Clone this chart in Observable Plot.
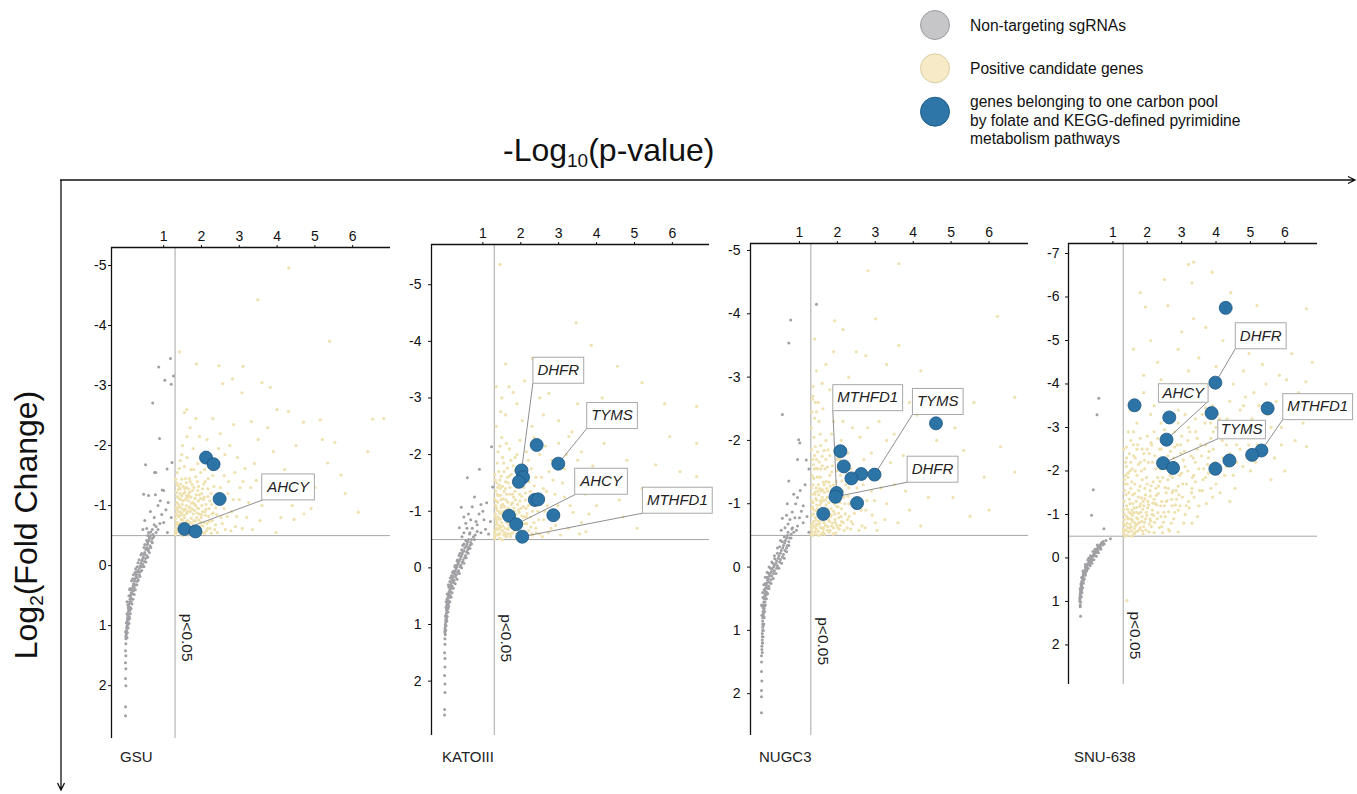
<!DOCTYPE html>
<html><head><meta charset="utf-8">
<script src="https://cdn.jsdelivr.net/npm/d3@7"></script>
<script src="https://cdn.jsdelivr.net/npm/@observablehq/plot@0.6"></script>
<style>
body{margin:0;width:1357px;height:794px;overflow:hidden;position:relative;background:#fff;font-family:"Liberation Sans",Arial,sans-serif;}
.panel{position:absolute;}
</style></head><body>
<script>
// ---------------- DATA ----------------
const cellLines = ["GSU", "KATOIII", "NUGC3", "SNU-638"];
const xTicks = [1, 2, 3, 4, 5, 6];
const yTicksGSU = [-5, -4, -3, -2, -1, 0, 1, 2];
const yTicksKATOIII = [-5, -4, -3, -2, -1, 0, 1, 2];
const yTicksNUGC3 = [-5, -4, -3, -2, -1, 0, 1, 2];
const yTicksSNU = [-7, -6, -5, -4, -3, -2, -1, 0, 1, 2];
const pThreshold = 1.301;      // -log10(0.05)
const foldThreshold = -0.5;
const legendLabels = ["Non-targeting sgRNAs", "Positive candidate genes",
  ["genes belonging to one carbon pool", "by folate and KEGG-defined pyrimidine", "metabolism pathways"]];

// GSU
const gsuNonTargeting = [[0.65,-0.5],[0.62,-0.45],[0.58,-0.38],[0.55,-0.3],[0.5,-0.22],[0.46,-0.15],[0.42,-0.08],[0.38,0],[0.33,0.08],[0.28,0.15],[0.24,0.22],[0.2,0.3],[0.17,0.38],[0.14,0.45],[0.12,0.52],[0.1,0.6],[0.08,0.68],[0.07,0.76],[0.05,0.84],[0.04,0.92],[0.03,1.0],[0.02,1.08],[0.01,1.15],[0.0,1.22],[0.0,1.3],[-0.01,1.42],[0.0,1.5],[-0.01,1.62],[0.0,1.72],[-0.01,1.88],[0.0,2.0],[-0.01,2.35],[-0.01,2.5],[0.7,-0.45],[0.6,-0.28],[0.52,-0.12],[0.45,-0.02],[0.38,0.1],[0.3,0.2],[0.25,0.32],[0.2,0.42],[0.16,0.55],[0.12,0.7],[0.09,0.85],[0.06,0.98],[0.55,-0.42],[0.48,-0.3],[0.4,-0.18],[0.32,-0.05],[0.26,0.05],[0.2,0.15],[0.15,0.25],[0.11,0.38],[0.08,0.5],[0.05,0.65],[0.03,0.8],[0.01,0.95],[-0.01,1.1],[0.6,-0.55],[0.7,-0.6],[0.8,-0.65],[0.55,-0.62],[0.9,-0.7],[1.0,-0.72],[0.75,-0.8],[0.95,-0.85],[1.06,-0.93],[0.65,-0.9],[0.85,-1.0],[0.91,-1.08],[0.47,-1.19],[0.6,-1.17],[0.78,-1.18],[0.96,-1.26],[1.0,-1.25],[0.52,-1.68],[0.76,-1.55],[0.79,-1.55],[1.09,-1.61],[1.22,-1.72],[0.89,-2.12],[0.71,-2.71],[1.18,-3.45],[0.87,-3.31],[1.03,-3.09],[1.2,-3.02],[1.26,-3.16],[1.1,-0.55],[1.2,-0.8],[0.5,-0.75],[0.45,-0.6],[1.12,-1.05],[0.63,-0.48],[0.6,-0.42],[0.57,-0.35],[0.53,-0.27],[0.49,-0.19],[0.44,-0.11],[0.4,-0.04],[0.36,0.04],[0.31,0.11],[0.27,0.18],[0.23,0.26],[0.19,0.34],[0.16,0.41],[0.13,0.49],[0.11,0.56],[0.09,0.64],[0.07,0.72],[0.06,0.8],[0.04,0.88],[0.03,0.96],[0.02,1.04],[0.01,1.12],[0.0,1.18],[0.68,-0.4],[0.64,-0.33],[0.59,-0.25],[0.55,-0.17],[0.49,-0.07],[0.43,0.02],[0.36,0.15],[0.3,0.26],[0.27,0.1],[0.22,0.36],[0.18,0.47],[0.14,0.6],[0.1,0.75],[0.07,0.9],[0.72,-0.52],[0.66,-0.56],[0.58,-0.5],[0.74,-0.48],[0.7,-0.38],[0.66,-0.3],[0.62,-0.22],[0.58,-0.14],[0.53,-0.06],[0.48,0.02],[0.42,0.08],[0.37,0.18],[0.33,0.24],[0.29,0.32],[0.25,0.4],[0.22,0.48],[0.19,0.56],[0.16,0.64],[0.14,0.72],[0.12,0.8],[0.1,0.88],[0.08,0.96],[0.06,1.04],[0.04,1.12],[0.03,1.2],[0.06,0.7],[0.03,0.6],[0.1,0.4],[0.18,0.22],[0.24,0.12],[0.3,0.02],[0.35,-0.1],[0.42,-0.2],[0.5,-0.35],[0.8,-0.55],[0.85,-0.6],[0.75,-0.68]];
const gsuCandidates = [[1.35,-0.55],[1.4,-0.7],[1.38,-0.9],[1.45,-1.1],[1.42,-1.3],[1.5,-0.6],[1.55,-0.8],[1.6,-1.0],[1.52,-1.2],[1.58,-1.45],[1.65,-0.65],[1.7,-0.9],[1.68,-1.15],[1.75,-1.35],[1.72,-1.6],[1.8,-0.75],[1.85,-1.0],[1.9,-1.25],[1.82,-0.55],[1.95,-0.62],[2.0,-0.85],[2.05,-1.1],[2.1,-1.4],[1.98,-1.55],[2.15,-0.7],[2.2,-0.95],[2.25,-1.2],[2.3,-1.5],[2.35,-0.6],[2.4,-0.85],[2.45,-1.05],[2.5,-1.3],[2.55,-0.7],[2.6,-0.95],[1.36,-1.55],[1.44,-1.75],[1.62,-1.8],[1.5,-2.0],[1.78,-1.95],[1.9,-1.7],[2.05,-1.85],[2.2,-1.65],[2.4,-1.7],[2.6,-1.5],[2.7,-1.2],[2.8,-0.9],[2.9,-0.65],[3.0,-1.1],[3.1,-1.4],[2.95,-1.8],[2.75,-2.0],[2.5,-2.2],[2.3,-2.45],[1.7,-2.3],[1.55,-2.55],[3.2,-0.8],[3.3,-1.3],[3.4,-1.7],[3.5,-2.1],[3.6,-1.0],[3.8,-1.5],[4.0,-1.2],[3.9,-1.9],[4.2,-1.6],[4.4,-1.0],[4.5,-2.0],[4.71,-0.86],[4.45,-0.77],[3.97,-0.55],[5.0,-1.3],[5.34,-1.71],[5.69,-1.51],[6.15,-0.89],[5.53,-2.05],[4.70,-2.39],[5.14,-2.43],[6.53,-2.44],[4.3,-2.57],[3.07,-2.88],[3.82,-2.97],[2.56,-3.03],[2.82,-3.11],[1.61,-2.6],[1.42,-3.56],[1.87,-3.36],[2.46,-3.33],[3.1,-3.32],[5.39,-3.74],[3.49,-4.43],[4.31,-4.96],[1.33,-0.62],[1.47,-0.52],[1.4,-0.82],[1.48,-0.95],[1.56,-0.58],[1.63,-0.75],[1.57,-1.1],[1.66,-1.28],[1.74,-0.62],[1.77,-1.05],[1.88,-0.88],[1.92,-1.08],[1.35,-1.05],[1.43,-1.2],[1.31,-0.78],[1.34,-1.38],[2.02,-0.55],[2.12,-1.02],[1.98,-0.72],[1.6,-1.3],[1.31,-0.52],[1.34,-0.68],[1.37,-0.83],[1.33,-0.97],[1.36,-1.15],[1.39,-1.27],[1.32,-1.44],[1.41,-0.58],[1.44,-0.64],[1.46,-0.77],[1.43,-0.89],[1.49,-1.02],[1.47,-1.16],[1.45,-1.36],[1.51,-0.5],[1.53,-0.66],[1.54,-0.92],[1.56,-1.28],[1.59,-0.73],[1.61,-0.87],[1.62,-1.13],[1.64,-0.55],[1.67,-0.96],[1.69,-1.22],[1.71,-0.58],[1.73,-0.79],[1.76,-1.25],[1.79,-0.63],[1.81,-0.92],[1.83,-1.12],[1.86,-0.58],[1.87,-0.8],[1.89,-1.4],[1.93,-0.95],[1.94,-1.18],[1.97,-0.66],[2.01,-1.0],[2.03,-1.28],[2.07,-0.72],[2.09,-0.9],[2.13,-0.58],[2.17,-1.15],[2.19,-0.82],[2.23,-0.62],[2.27,-1.02],[2.29,-0.75],[2.33,-1.32],[2.38,-0.96],[2.42,-0.55],[2.47,-1.2],[2.52,-0.8],[2.57,-1.05],[2.63,-0.6],[2.68,-0.82],[2.72,-1.4],[2.78,-0.58],[2.84,-1.1],[2.88,-1.55],[2.93,-0.82],[3.02,-1.3],[3.08,-0.62],[3.15,-1.62],[3.25,-1.05],[3.35,-0.6],[3.45,-1.42],[3.55,-0.75],[3.7,-1.25],[3.75,-2.3],[3.32,-2.4],[2.85,-2.35],[2.62,-1.85],[2.45,-1.95],[2.15,-2.1],[1.95,-2.15],[1.85,-2.45],[1.55,-1.65],[1.48,-1.85],[1.41,-1.62],[1.68,-1.45],[1.79,-1.6],[2.08,-1.6],[2.18,-1.45],[2.35,-1.15],[1.62,-2.15],[4.1,-0.8],[4.6,-1.45],[4.9,-0.95],[5.2,-2.1],[5.8,-1.2],[6.4,-1.9],[4.0,-2.6],[3.6,-3.05],[6.82,-2.45]];
const gsuCandidatesCore = [[1.32,-0.58],[1.35,-0.72],[1.38,-0.6],[1.41,-0.66],[1.44,-0.56],[1.47,-0.7],[1.5,-0.76],[1.52,-0.56],[1.55,-0.68],[1.58,-0.62],[1.61,-0.52],[1.63,-0.66],[1.66,-0.58],[1.69,-0.72],[1.72,-0.52],[1.75,-0.7],[1.78,-0.56],[1.81,-0.66],[1.84,-0.74],[1.87,-0.64],[1.9,-0.52],[1.93,-0.76],[1.96,-0.58],[1.99,-0.8],[2.04,-0.66],[2.08,-0.54],[2.11,-0.84],[2.16,-0.62],[2.21,-0.74],[2.26,-0.54],[2.31,-0.88],[2.37,-0.68],[1.33,-0.86],[1.36,-0.94],[1.39,-1.02],[1.42,-0.98],[1.45,-0.84],[1.48,-0.88],[1.51,-1.08],[1.54,-0.84],[1.57,-0.94],[1.6,-1.16],[1.63,-0.9],[1.66,-1.08],[1.69,-0.98],[1.72,-1.14],[1.75,-0.94],[1.78,-0.86],[1.82,-1.02],[1.86,-1.18],[1.9,-0.96],[1.94,-0.86],[1.98,-1.12],[2.03,-0.9],[2.07,-1.14],[2.12,-0.94],[2.17,-1.28],[1.34,-1.22],[1.37,-1.34],[1.4,-1.12],[1.44,-1.28],[1.48,-1.44],[1.52,-1.32],[1.56,-1.22],[1.6,-1.38],[1.65,-1.18],[1.7,-1.4],[1.74,-1.04],[1.8,-1.3],[1.85,-1.48],[1.92,-1.32],[2.0,-1.2],[2.06,-1.36],[2.22,-1.08],[2.28,-0.86]];
const gsuPathway = [[2.12,-1.80],[2.32,-1.69],[2.48,-1.11],[1.55,-0.61],[1.84,-0.57]];
const gsuLabels = [{gene:"AHCY", x:3.62, y:-1.095, px:1.55, py:-0.61, side:"start", compact:false}];

// KATOIII
const katoNonTargeting = [[0.62,-0.5],[0.58,-0.42],[0.52,-0.35],[0.47,-0.28],[0.43,-0.2],[0.38,-0.12],[0.33,-0.05],[0.29,0.02],[0.25,0.1],[0.2,0.18],[0.17,0.26],[0.14,0.34],[0.11,0.42],[0.09,0.5],[0.07,0.58],[0.05,0.66],[0.04,0.75],[0.03,0.84],[0.02,0.92],[0.01,1.0],[0.0,1.08],[0.0,1.15],[0.0,1.25],[0.0,1.35],[-0.01,1.5],[0.0,1.6],[0.0,1.75],[-0.01,1.9],[0.0,2.05],[0.0,2.2],[-0.01,2.5],[-0.01,2.6],[0.68,-0.45],[0.6,-0.32],[0.54,-0.22],[0.48,-0.14],[0.42,-0.05],[0.36,0.05],[0.3,0.12],[0.24,0.22],[0.19,0.32],[0.15,0.42],[0.12,0.52],[0.09,0.64],[0.06,0.78],[0.04,0.9],[0.55,-0.48],[0.5,-0.42],[0.44,-0.32],[0.37,-0.22],[0.32,-0.12],[0.27,-0.04],[0.22,0.06],[0.17,0.14],[0.13,0.24],[0.1,0.34],[0.08,0.46],[0.05,0.55],[0.03,0.7],[0.01,0.85],[0.38,-0.71],[0.72,-0.7],[1.07,-0.68],[0.55,-0.79],[0.85,-0.76],[0.82,-0.82],[1.2,-0.82],[1.03,-0.85],[0.43,-1.07],[0.72,-1.08],[0.95,-1.12],[1.26,-1.43],[0.59,-1.59],[0.91,-1.74],[1.23,-2.14],[0.65,-0.6],[0.8,-0.58],[0.95,-0.62],[0.5,-0.62],[0.62,-0.95],[0.78,-1.25],[1.0,-1.0],[1.15,-0.6],[0.6,-0.46],[0.56,-0.38],[0.5,-0.3],[0.45,-0.24],[0.4,-0.16],[0.35,-0.08],[0.31,-0.01],[0.27,0.06],[0.22,0.14],[0.19,0.22],[0.15,0.3],[0.13,0.38],[0.1,0.46],[0.08,0.54],[0.06,0.62],[0.05,0.7],[0.04,0.8],[0.03,0.88],[0.02,0.96],[0.01,1.04],[0.0,1.12],[0.66,-0.4],[0.62,-0.36],[0.57,-0.28],[0.52,-0.18],[0.46,-0.1],[0.4,-0.02],[0.34,0.08],[0.28,0.16],[0.23,0.26],[0.18,0.36],[0.14,0.48],[0.11,0.6],[0.08,0.72],[0.7,-0.5],[0.75,-0.55],[0.45,-0.55],[0.58,-0.7],[0.68,-0.85],[0.9,-0.95],[1.1,-1.15],[0.5,-0.9],[0.7,-0.42],[0.66,-0.34],[0.61,-0.26],[0.56,-0.18],[0.5,-0.08],[0.44,0.0],[0.38,0.1],[0.32,0.2],[0.27,0.28],[0.22,0.36],[0.19,0.44],[0.16,0.52],[0.13,0.6],[0.1,0.68],[0.08,0.78],[0.06,0.86],[0.05,0.94],[0.03,1.02],[0.02,1.1],[0.01,1.18],[0.03,0.6],[0.06,0.46],[0.09,0.3],[0.14,0.18],[0.2,0.08],[0.26,-0.02],[0.33,-0.14],[0.4,-0.26],[0.47,-0.4],[0.78,-0.5],[0.85,-0.64],[0.66,-0.62]];
const katoCandidates = [[1.32,-0.55],[1.36,-0.7],[1.4,-0.9],[1.34,-1.1],[1.38,-1.3],[1.45,-0.6],[1.5,-0.8],[1.55,-1.0],[1.48,-1.2],[1.6,-1.4],[1.62,-0.55],[1.68,-0.7],[1.72,-0.95],[1.78,-1.15],[1.85,-1.35],[1.9,-0.6],[1.95,-0.85],[2.0,-1.05],[2.1,-0.65],[2.15,-0.9],[2.2,-1.1],[2.25,-1.35],[2.3,-0.6],[2.35,-0.8],[2.45,-1.0],[2.5,-0.6],[2.6,-0.85],[2.7,-1.1],[2.8,-0.7],[1.33,-1.55],[1.42,-1.7],[1.55,-1.85],[1.4,-2.05],[1.65,-1.6],[1.8,-1.8],[1.7,-2.1],[1.5,-2.3],[1.9,-2.0],[2.1,-1.6],[2.2,-1.9],[2.4,-1.6],[2.5,-2.0],[2.6,-1.4],[2.75,-1.7],[2.9,-1.3],[3.0,-0.9],[3.1,-1.5],[3.2,-2.0],[3.3,-1.1],[3.45,-1.6],[3.6,-0.8],[3.7,-1.3],[3.9,-1.8],[4.0,-1.1],[4.2,-2.2],[4.3,-1.5],[4.6,-1.2],[4.8,-1.9],[5.0,-2.5],[5.2,-1.4],[1.35,-2.5],[1.6,-2.7],[1.47,-2.76],[1.69,-3.2],[2.04,-2.6],[2.74,-3.08],[3.27,-2.32],[2.3,-2.5],[1.9,-2.9],[2.6,-2.7],[3.0,-2.6],[3.5,-2.9],[3.46,-4.33],[3.86,-3.93],[4.55,-3.56],[5.2,-3.27],[6.64,-2.85],[5.93,-2.32],[6.64,-2.2],[6.64,-1.61],[5.56,-1.82],[5.07,-0.7],[3.72,-0.64],[1.45,-5.36],[4.1,-2.6],[2.1,-3.3],[1.5,-3.0],[1.31,-0.65],[1.35,-0.85],[1.44,-0.52],[1.43,-0.75],[1.52,-0.65],[1.58,-0.9],[1.53,-1.12],[1.64,-0.8],[1.66,-1.05],[1.75,-0.6],[1.76,-0.82],[1.83,-1.0],[1.88,-0.75],[1.98,-0.55],[2.05,-0.78],[2.12,-1.2],[1.37,-1.02],[1.46,-1.4],[1.31,-1.22],[2.4,-0.7],[1.57,-0.6],[1.31,-0.52],[1.34,-0.66],[1.37,-0.8],[1.33,-0.95],[1.36,-1.18],[1.39,-1.42],[1.32,-1.65],[1.41,-0.6],[1.44,-0.7],[1.46,-0.86],[1.43,-1.0],[1.49,-1.1],[1.47,-1.28],[1.45,-1.55],[1.51,-0.5],[1.53,-0.74],[1.54,-0.95],[1.56,-1.35],[1.59,-0.62],[1.61,-1.2],[1.63,-1.02],[1.65,-0.68],[1.67,-1.5],[1.69,-0.85],[1.71,-1.3],[1.73,-0.55],[1.77,-1.0],[1.79,-0.72],[1.81,-1.25],[1.84,-0.88],[1.87,-1.55],[1.89,-0.52],[1.92,-1.12],[1.94,-0.7],[1.97,-1.3],[2.01,-0.62],[2.03,-0.92],[2.08,-1.42],[2.11,-0.78],[2.14,-1.05],[2.18,-0.58],[2.22,-1.25],[2.27,-0.72],[2.31,-1.0],[2.36,-1.45],[2.41,-0.62],[2.47,-0.85],[2.52,-1.15],[2.57,-0.55],[2.63,-1.0],[2.68,-1.35],[2.73,-0.62],[2.78,-0.95],[2.85,-1.55],[2.92,-0.75],[2.98,-1.1],[3.05,-0.58],[3.15,-1.25],[3.25,-0.7],[3.38,-0.98],[3.5,-1.9],[3.55,-0.6],[3.8,-0.95],[1.38,-1.85],[1.52,-1.95],[1.62,-2.2],[1.45,-2.15],[1.75,-1.65],[1.85,-1.95],[1.98,-2.25],[2.15,-2.05],[2.28,-1.75],[2.35,-2.3],[2.55,-1.6],[2.65,-2.15],[2.82,-1.9],[3.0,-2.2],[3.15,-1.75],[3.35,-2.4],[3.6,-2.05],[4.4,-2.8],[4.7,-0.9],[5.5,-1.2],[6.2,-1.7],[5.8,-2.9],[4.15,-3.0],[3.1,-3.5],[2.5,-3.0],[1.8,-3.1],[1.35,-3.2],[1.6,-3.6],[2.3,-3.7]];
const katoCandidatesCore = [[1.32,-0.6],[1.35,-0.76],[1.38,-0.58],[1.41,-0.68],[1.44,-0.6],[1.47,-0.72],[1.5,-0.66],[1.52,-0.92],[1.55,-0.58],[1.58,-0.7],[1.61,-0.56],[1.63,-0.84],[1.66,-0.6],[1.69,-0.76],[1.72,-0.6],[1.75,-0.88],[1.78,-0.62],[1.81,-0.78],[1.84,-0.66],[1.87,-0.94],[1.9,-0.72],[1.93,-0.58],[1.96,-0.98],[1.99,-0.74],[2.04,-0.56],[2.08,-0.9],[2.11,-0.6],[2.16,-0.78],[2.21,-0.66],[2.26,-0.9],[2.31,-0.58],[2.37,-1.1],[1.33,-0.9],[1.36,-1.06],[1.39,-1.16],[1.42,-0.86],[1.45,-0.96],[1.48,-1.06],[1.51,-0.98],[1.54,-1.22],[1.57,-1.08],[1.6,-0.98],[1.63,-1.3],[1.66,-1.16],[1.69,-1.04],[1.72,-1.42],[1.75,-1.12],[1.78,-1.3],[1.82,-1.06],[1.86,-1.2],[1.9,-1.42],[1.94,-1.02],[1.98,-1.18],[2.03,-1.26],[2.07,-1.08],[2.12,-1.32],[2.17,-0.96],[1.34,-1.36],[1.37,-1.5],[1.4,-1.28],[1.44,-1.46],[1.48,-1.62],[1.52,-1.44],[1.56,-1.7],[1.6,-1.52],[1.65,-1.76],[1.7,-1.62],[1.74,-1.9],[1.8,-1.52],[1.85,-1.72],[1.92,-1.62],[2.0,-1.5],[2.06,-1.82],[2.22,-1.52],[2.28,-1.12]];
const katoPathway = [[2.42,-2.17],[2.99,-1.84],[2.02,-1.72],[2.06,-1.60],[1.95,-1.52],[2.37,-1.20],[2.46,-1.21],[2.86,-0.93],[1.69,-0.92],[1.88,-0.77],[2.04,-0.55]];
const katoLabels = [
  {gene:"DHFR", x:2.32, y:-3.26, px:2.02, py:-1.72, side:"start", compact:false},
  {gene:"TYMS", x:3.74, y:-2.46, px:2.99, py:-1.84, side:"start", compact:false},
  {gene:"AHCY", x:3.45, y:-1.30, px:1.88, py:-0.77, side:"start", compact:false},
  {gene:"MTHFD1", x:5.21, y:-0.965, px:2.04, py:-0.55, side:"start", compact:false}];

// NUGC3
const nugcNonTargeting = [[0.68,-0.5],[0.63,-0.42],[0.58,-0.34],[0.52,-0.26],[0.46,-0.18],[0.4,-0.1],[0.34,-0.03],[0.28,0.03],[0.23,0.1],[0.18,0.18],[0.14,0.25],[0.11,0.33],[0.09,0.42],[0.07,0.5],[0.05,0.6],[0.04,0.7],[0.03,0.8],[0.03,0.9],[0.03,1.0],[0.02,1.1],[0.02,1.2],[0.01,1.3],[0.0,1.4],[0.0,1.5],[0.0,1.65],[0.01,1.8],[0.0,1.95],[0.0,2.05],[0.0,2.3],[0.74,-0.46],[0.66,-0.3],[0.58,-0.2],[0.5,-0.12],[0.42,-0.02],[0.34,0.06],[0.27,0.14],[0.21,0.24],[0.16,0.34],[0.12,0.44],[0.09,0.55],[0.07,0.66],[0.06,0.78],[0.05,0.92],[0.6,-0.48],[0.55,-0.4],[0.48,-0.32],[0.42,-0.22],[0.35,-0.13],[0.3,-0.06],[0.24,0.02],[0.19,0.1],[0.14,0.16],[0.1,0.26],[0.07,0.36],[0.04,0.48],[0.02,0.62],[0.01,0.76],[0.55,-0.77],[0.66,-0.82],[0.81,-0.87],[0.9,-1.0],[1.1,-0.97],[0.95,-1.1],[1.02,-1.21],[0.72,-1.36],[0.95,-1.7],[1.18,-1.69],[1.25,-1.55],[0.98,-2.01],[1.01,-1.96],[0.55,-2.41],[0.72,-3.54],[0.77,-3.9],[1.45,-4.15],[0.8,-0.6],[0.95,-0.65],[1.1,-0.7],[1.2,-0.8],[0.7,-0.68],[1.15,-1.3],[1.0,-0.78],[0.85,-1.15],[1.25,-0.55],[0.66,-0.46],[0.61,-0.38],[0.56,-0.3],[0.5,-0.22],[0.44,-0.14],[0.38,-0.06],[0.32,0.0],[0.26,0.07],[0.21,0.14],[0.16,0.21],[0.13,0.29],[0.1,0.38],[0.08,0.46],[0.06,0.55],[0.05,0.65],[0.04,0.75],[0.03,0.85],[0.03,0.95],[0.02,1.05],[0.02,1.15],[0.01,1.25],[0.72,-0.4],[0.68,-0.34],[0.62,-0.26],[0.55,-0.16],[0.48,-0.08],[0.4,0.02],[0.32,0.1],[0.25,0.2],[0.19,0.3],[0.14,0.4],[0.11,0.5],[0.08,0.62],[0.06,0.72],[0.78,-0.52],[0.85,-0.55],[0.52,-0.58],[0.62,-0.62],[0.75,-0.75],[0.88,-0.78],[1.05,-0.88],[0.68,-1.0],[0.78,-0.46],[0.72,-0.34],[0.66,-0.24],[0.6,-0.14],[0.53,-0.06],[0.46,0.02],[0.38,0.1],[0.31,0.18],[0.25,0.26],[0.2,0.34],[0.16,0.42],[0.13,0.5],[0.1,0.6],[0.08,0.7],[0.07,0.8],[0.06,0.9],[0.05,1.0],[0.04,1.1],[0.03,1.2],[0.02,1.35],[0.0,0.6],[0.03,0.4],[0.06,0.28],[0.1,0.16],[0.15,0.08],[0.2,0.0],[0.27,-0.08],[0.34,-0.18],[0.42,-0.3],[0.5,-0.42],[0.82,-0.62],[0.7,-0.55],[0.92,-0.58]];
const nugcCandidates = [[1.33,-0.55],[1.37,-0.72],[1.35,-0.95],[1.4,-1.15],[1.38,-1.4],[1.45,-0.6],[1.5,-0.85],[1.55,-1.05],[1.5,-1.3],[1.48,-1.55],[1.62,-0.55],[1.66,-0.75],[1.7,-0.98],[1.75,-1.2],[1.8,-1.45],[1.85,-0.65],[1.9,-0.88],[2.0,-1.1],[2.05,-0.6],[2.1,-0.8],[2.2,-1.0],[2.3,-1.25],[2.35,-0.6],[2.45,-0.85],[2.55,-1.1],[2.65,-0.65],[2.75,-0.9],[2.9,-1.2],[3.0,-0.7],[1.35,-1.7],[1.42,-1.9],[1.55,-2.1],[1.4,-2.35],[1.6,-1.75],[1.7,-2.0],[1.5,-2.6],[1.36,-2.85],[1.9,-2.3],[2.0,-1.7],[2.1,-2.0],[2.3,-1.6],[2.4,-2.2],[2.5,-1.4],[2.7,-1.7],[2.8,-2.2],[3.1,-1.5],[3.3,-1.0],[3.3,-2.0],[3.5,-1.3],[3.74,-1.76],[3.9,-0.9],[4.0,-1.5],[4.3,-1.73],[4.4,-1.1],[4.62,-2.0],[4.8,-1.4],[5.05,-1.1],[5.33,-1.84],[5.87,-1.42],[6.68,-1.5],[6.68,-2.68],[3.62,-3.5],[2.75,-3.34],[2.5,-3.4],[1.93,-3.89],[3.01,-3.92],[2.15,-3.75],[6.22,-3.96],[3.62,-4.79],[2.81,-4.68],[1.6,-2.9],[1.8,-2.8],[2.2,-2.6],[2.6,-2.8],[3.0,-2.5],[3.5,-2.6],[4.1,-2.4],[1.45,-3.1],[5.5,-0.8],[1.31,-0.65],[1.34,-0.82],[1.32,-1.05],[1.43,-0.52],[1.42,-0.78],[1.46,-0.98],[1.44,-1.25],[1.53,-0.68],[1.58,-0.92],[1.57,-1.2],[1.64,-0.62],[1.68,-0.88],[1.73,-1.1],[1.78,-0.55],[1.82,-0.8],[1.95,-0.7],[2.02,-0.95],[1.32,-1.25],[1.55,-1.42],[1.65,-1.3],[1.31,-0.52],[1.34,-0.68],[1.37,-0.84],[1.33,-1.15],[1.36,-1.3],[1.39,-1.55],[1.32,-1.85],[1.41,-0.62],[1.44,-0.68],[1.46,-0.88],[1.43,-1.08],[1.49,-1.2],[1.47,-1.42],[1.45,-1.7],[1.51,-0.5],[1.53,-0.78],[1.54,-0.98],[1.56,-1.55],[1.59,-0.62],[1.61,-1.22],[1.63,-1.05],[1.65,-0.7],[1.67,-1.55],[1.69,-0.85],[1.71,-1.35],[1.73,-0.58],[1.77,-1.02],[1.79,-0.72],[1.81,-1.28],[1.84,-0.92],[1.87,-1.6],[1.89,-0.52],[1.92,-1.0],[1.94,-0.75],[1.97,-1.35],[2.01,-0.62],[2.03,-0.85],[2.08,-1.45],[2.11,-0.72],[2.14,-1.2],[2.18,-0.58],[2.22,-1.3],[2.27,-0.75],[2.31,-1.0],[2.36,-1.55],[2.41,-0.68],[2.47,-1.05],[2.52,-1.25],[2.57,-0.58],[2.63,-0.9],[2.68,-1.3],[2.73,-0.62],[2.78,-1.05],[2.85,-1.5],[2.92,-0.82],[2.98,-1.05],[3.05,-0.58],[3.15,-1.25],[3.25,-0.75],[3.4,-1.65],[3.6,-0.7],[3.8,-1.2],[4.2,-0.65],[1.38,-2.05],[1.52,-2.3],[1.62,-2.5],[1.45,-2.45],[1.34,-2.65],[1.75,-1.85],[1.85,-2.1],[1.98,-2.5],[2.15,-2.3],[2.28,-1.8],[2.45,-2.5],[2.6,-2.05],[2.9,-1.8],[3.1,-2.3],[3.5,-2.1],[3.9,-2.6],[4.5,-2.5],[5.1,-2.2],[5.6,-2.6],[6.3,-1.9],[6.0,-0.9],[1.7,-3.2],[2.3,-3.0],[3.3,-3.2],[4.2,-3.1],[1.4,-3.6],[1.9,-3.4]];
const nugcCandidatesCore = [[1.32,-0.6],[1.35,-0.5],[1.38,-0.64],[1.41,-0.56],[1.44,-0.74],[1.47,-0.66],[1.5,-0.56],[1.52,-0.72],[1.55,-0.62],[1.58,-0.52],[1.61,-0.74],[1.63,-0.6],[1.66,-0.52],[1.69,-0.66],[1.72,-0.8],[1.75,-0.64],[1.78,-0.74],[1.81,-0.58],[1.84,-0.82],[1.87,-0.7],[1.9,-0.62],[1.93,-0.84],[1.96,-0.54],[1.99,-0.66],[2.04,-0.78],[2.08,-0.66],[2.11,-0.92],[2.16,-0.7],[2.21,-0.84],[2.26,-0.62],[2.31,-0.8],[2.37,-0.72],[1.33,-0.92],[1.36,-1.02],[1.39,-0.9],[1.42,-1.18],[1.45,-1.06],[1.48,-0.92],[1.51,-1.14],[1.54,-1.24],[1.57,-1.02],[1.6,-1.1],[1.63,-1.34],[1.66,-1.18],[1.69,-1.06],[1.72,-1.24],[1.75,-0.92],[1.78,-1.34],[1.82,-1.16],[1.86,-1.06],[1.9,-1.3],[1.94,-1.22],[1.98,-0.96],[2.03,-1.24],[2.07,-1.02],[2.12,-1.36],[2.17,-1.1],[1.34,-1.44],[1.37,-1.62],[1.4,-1.76],[1.44,-1.56],[1.48,-1.82],[1.52,-1.66],[1.56,-1.92],[1.6,-1.6],[1.65,-1.84],[1.7,-1.7],[1.74,-1.58],[1.8,-1.76],[1.85,-1.5],[1.92,-1.84],[2.0,-1.52],[2.06,-1.7],[2.22,-1.5],[2.28,-1.12],[1.31,-2.2],[1.33,-2.45],[1.36,-2.7],[1.42,-2.6]];
const nugcPathway = [[4.60,-2.27],[2.08,-1.83],[2.17,-1.59],[2.63,-1.47],[2.37,-1.40],[2.98,-1.46],[1.98,-1.17],[1.95,-1.11],[2.52,-1.01],[1.63,-0.84]];
const nugcLabels = [
  {gene:"MTHFD1", x:1.88, y:-2.47, px:1.98, py:-1.17, side:"start", compact:false},
  {gene:"TYMS", x:3.98, y:-2.41, px:2.98, py:-1.46, side:"start", compact:false},
  {gene:"DHFR", x:3.84, y:-1.34, px:1.95, py:-1.11, side:"start", compact:false}];

// SNU-638
const snuNonTargeting = [[0.69,-0.36],[0.63,-0.3],[0.57,-0.25],[0.52,-0.18],[0.46,-0.1],[0.4,-0.02],[0.34,0.06],[0.28,0.13],[0.24,0.2],[0.2,0.27],[0.16,0.33],[0.13,0.42],[0.11,0.52],[0.09,0.62],[0.07,0.72],[0.05,0.82],[0.04,0.92],[0.04,1.0],[0.05,1.08],[0.06,1.34],[0.6,-0.22],[0.5,-0.12],[0.44,-0.05],[0.37,0.03],[0.31,0.1],[0.26,0.16],[0.22,0.24],[0.18,0.3],[0.14,0.38],[0.12,0.47],[0.1,0.56],[0.08,0.66],[0.06,0.78],[0.05,0.9],[0.75,-0.32],[0.48,-0.2],[0.3,0.0],[0.2,0.15],[0.15,0.5],[0.1,0.7],[0.59,-3.67],[0.54,-3.29],[0.43,-1.57],[0.38,-0.98],[0.74,-0.67],[0.93,-0.44],[0.8,-0.4],[0.66,-0.33],[0.6,-0.27],[0.54,-0.21],[0.49,-0.15],[0.43,-0.07],[0.37,0.0],[0.32,0.08],[0.27,0.15],[0.22,0.22],[0.18,0.29],[0.15,0.36],[0.12,0.45],[0.1,0.54],[0.08,0.64],[0.06,0.74],[0.05,0.86],[0.04,0.96],[0.72,-0.38],[0.64,-0.24],[0.56,-0.16],[0.46,-0.06],[0.39,0.06],[0.33,0.12],[0.25,0.25],[0.2,0.35],[0.13,0.55],[0.09,0.75],[0.07,0.88],[0.7,-0.3],[0.65,-0.2],[0.58,-0.12],[0.52,-0.04],[0.45,0.04],[0.39,0.12],[0.34,0.18],[0.28,0.24],[0.24,0.3],[0.2,0.4],[0.17,0.48],[0.14,0.58],[0.12,0.68],[0.1,0.8],[0.08,0.9],[0.06,1.02],[0.05,1.12],[0.55,-0.3],[0.42,-0.15],[0.35,-0.05],[0.27,0.05],[0.2,0.2],[0.13,0.3],[0.09,0.45],[0.07,0.6],[0.05,0.7]];
const snuCandidates = [[1.32,-0.55],[1.36,-0.75],[1.34,-1.0],[1.4,-1.2],[1.38,-1.45],[1.45,-0.6],[1.5,-0.9],[1.55,-1.1],[1.48,-1.35],[1.52,-1.6],[1.6,-0.55],[1.65,-0.8],[1.7,-1.05],[1.68,-1.3],[1.75,-1.55],[1.8,-0.7],[1.85,-0.95],[1.9,-1.2],[1.95,-1.45],[2.0,-1.7],[2.05,-0.6],[2.1,-0.85],[2.15,-1.1],[2.2,-1.35],[2.25,-1.6],[2.3,-1.85],[2.35,-0.7],[2.4,-0.95],[2.5,-1.2],[2.55,-1.5],[2.6,-1.8],[2.65,-2.1],[2.7,-0.8],[2.8,-1.05],[2.85,-1.35],[2.9,-1.65],[3.0,-1.95],[3.05,-2.25],[3.1,-1.0],[3.2,-1.3],[3.3,-1.6],[3.35,-1.9],[3.4,-2.2],[3.45,-2.5],[3.5,-1.2],[3.6,-1.55],[3.7,-1.85],[3.75,-2.15],[3.8,-2.45],[3.85,-2.75],[3.9,-1.4],[4.0,-1.7],[4.1,-2.0],[4.2,-2.3],[4.3,-2.6],[4.35,-2.9],[4.5,-1.9],[4.6,-2.2],[4.7,-2.5],[4.8,-2.8],[4.9,-3.1],[5.0,-2.0],[5.2,-2.6],[5.4,-2.9],[5.5,-3.3],[5.7,-2.3],[5.9,-3.0],[6.1,-3.6],[6.3,-2.7],[6.53,-3.1],[6.63,-2.56],[6.61,-4.05],[5.84,-4.2],[5.35,-4.45],[4.96,-4.7],[4.5,-4.0],[4.0,-4.4],[3.2,-4.3],[2.7,-4.0],[2.3,-4.5],[1.6,-4.8],[2.1,-5.0],[3.0,-5.2],[3.35,-5.5],[2.6,-5.8],[1.95,-5.77],[5.19,-5.8],[6.63,-5.73],[4.43,-6.1],[3.3,-6.32],[3.35,-6.8],[3.2,-6.75],[3.89,-6.57],[1.5,-2.0],[1.4,-2.3],[1.6,-2.6],[1.45,-2.9],[1.8,-2.2],[1.7,-3.1],[2.0,-2.5],[2.2,-2.9],[2.1,-3.3],[2.5,-2.7],[2.4,-3.1],[2.8,-2.9],[2.9,-3.4],[3.2,-3.0],[3.3,-3.6],[3.6,-3.3],[3.9,-3.5],[4.1,-3.2],[4.4,-3.6],[4.8,-3.5],[5.1,-3.8],[1.9,-3.8],[2.5,-3.6],[3.0,-3.8],[3.6,-4.0],[5.6,-1.8],[6.0,-2.0],[4.4,-1.3],[3.3,-0.8],[2.9,-0.6],[1.31,-0.65],[1.33,-0.88],[1.32,-1.12],[1.42,-0.52],[1.43,-0.7],[1.41,-0.95],[1.47,-1.05],[1.53,-0.72],[1.57,-0.98],[1.58,-1.25],[1.62,-0.68],[1.63,-1.48],[1.72,-0.62],[1.73,-0.9],[1.78,-1.18],[1.83,-1.38],[1.88,-0.55],[1.92,-0.82],[1.97,-1.05],[2.02,-1.3],[2.08,-1.55],[2.12,-0.72],[2.18,-0.98],[2.28,-1.22],[2.32,-1.48],[2.45,-0.58],[2.48,-1.05],[2.58,-1.32],[2.62,-0.65],[2.72,-1.2],[1.35,-1.7],[1.44,-1.85],[1.55,-1.75],[1.65,-2.0],[1.85,-1.8],[1.92,-2.05],[2.15,-2.2],[2.38,-2.05],[2.75,-1.55],[2.95,-1.2],[1.41,0.98],[1.31,-0.78],[1.33,-1.3],[1.35,-1.55],[1.37,-1.9],[1.39,-2.1],[1.32,-2.5],[1.43,-1.12],[1.46,-1.5],[1.42,-1.7],[1.49,-0.68],[1.5,-1.25],[1.52,-2.2],[1.54,-0.5],[1.56,-0.88],[1.58,-1.45],[1.6,-2.35],[1.62,-1.15],[1.64,-1.7],[1.66,-0.6],[1.69,-0.92],[1.7,-1.9],[1.72,-2.6],[1.74,-1.4],[1.77,-0.82],[1.79,-1.65],[1.81,-1.05],[1.83,-2.0],[1.86,-0.62],[1.88,-1.3],[1.9,-2.4],[1.93,-1.6],[1.95,-0.9],[1.98,-1.85],[2.01,-1.15],[2.03,-2.2],[2.06,-0.78],[2.09,-1.42],[2.11,-2.65],[2.14,-1.0],[2.17,-1.75],[2.2,-0.58],[2.23,-1.25],[2.26,-2.05],[2.29,-0.9],[2.33,-1.65],[2.36,-2.5],[2.39,-1.2],[2.42,-0.72],[2.45,-1.85],[2.48,-2.3],[2.52,-0.95],[2.55,-1.3],[2.58,-2.05],[2.61,-1.6],[2.65,-0.62],[2.68,-2.45],[2.71,-1.35],[2.74,-1.85],[2.77,-0.9],[2.8,-2.2],[2.84,-1.55],[2.87,-2.6],[2.9,-1.1],[2.94,-1.9],[2.98,-2.4],[3.02,-1.4],[3.06,-0.8],[3.1,-2.1],[3.14,-1.7],[3.18,-2.7],[3.22,-1.15],[3.27,-2.35],[3.31,-1.85],[3.36,-1.4],[3.41,-2.9],[3.46,-0.95],[3.5,-2.05],[3.55,-2.6],[3.62,-1.8],[3.68,-3.1],[3.72,-1.25],[3.78,-2.3],[3.85,-1.6],[3.92,-2.9],[3.98,-2.2],[4.05,-3.3],[4.12,-1.5],[4.18,-2.7],[4.25,-1.9],[4.32,-3.2],[4.4,-2.4],[4.48,-3.0],[4.55,-1.6],[4.62,-2.8],[4.7,-3.4],[4.78,-2.1],[4.85,-3.7],[4.95,-2.6],[5.05,-3.2],[5.15,-2.2],[5.25,-3.5],[5.35,-2.5],[5.45,-4.0],[5.6,-3.0],[5.75,-3.6],[5.9,-2.6],[6.05,-4.1],[6.2,-3.2],[6.4,-3.8],[6.7,-3.5],[6.8,-4.5],[2.2,-3.5],[2.8,-3.3],[1.5,-3.4],[1.9,-4.2],[2.4,-4.1],[3.5,-4.6],[4.2,-5.0],[4.8,-4.3],[5.6,-5.1],[6.2,-4.7],[3.7,-5.3],[2.9,-4.8],[1.8,-6.1],[2.5,-6.4]];
const snuCandidatesCore = [[1.32,-0.6],[1.35,-0.5],[1.38,-0.64],[1.41,-0.8],[1.44,-0.9],[1.47,-0.6],[1.5,-0.78],[1.52,-1.02],[1.55,-0.62],[1.58,-0.84],[1.61,-1.04],[1.63,-0.56],[1.66,-0.74],[1.69,-1.16],[1.72,-0.78],[1.75,-1.02],[1.78,-0.66],[1.81,-1.24],[1.84,-0.84],[1.87,-1.12],[1.9,-0.72],[1.93,-1.36],[1.96,-0.64],[1.99,-0.98],[2.04,-1.22],[2.08,-0.9],[2.11,-1.66],[2.16,-1.26],[2.21,-0.82],[2.26,-1.44],[2.31,-1.04],[2.37,-1.76],[2.42,-1.3],[2.47,-0.82],[2.52,-1.62],[2.57,-2.2],[2.62,-1.06],[2.67,-1.9],[2.72,-1.5],[2.77,-2.3],[2.82,-1.22],[2.87,-2.0],[2.92,-1.45],[2.97,-2.6],[3.03,-1.7],[3.08,-2.45],[3.13,-1.2],[3.18,-2.0],[3.24,-2.9],[3.29,-1.5],[3.34,-2.3],[3.4,-1.75],[3.45,-2.75],[3.52,-1.55],[3.58,-2.35],[3.64,-2.05],[3.7,-2.6],[3.78,-1.95],[3.84,-3.1],[3.92,-2.5],[1.34,-1.8],[1.37,-2.2],[1.4,-2.55],[1.44,-1.95],[1.48,-2.4],[1.52,-2.7],[1.56,-2.05],[1.6,-2.9],[1.65,-2.3],[1.7,-2.5],[1.74,-2.15],[1.8,-2.75],[1.85,-2.5],[1.92,-2.25],[2.0,-2.8],[2.06,-2.4],[2.13,-2.6],[2.22,-2.35],[2.3,-2.75],[2.4,-2.5],[2.5,-2.95],[2.6,-2.35],[2.7,-2.75],[2.8,-2.55],[2.9,-3.1],[3.0,-2.8],[3.1,-3.3],[3.4,-3.2],[3.7,-3.45],[4.0,-3.0],[4.3,-2.1],[4.6,-2.6],[4.9,-2.3],[5.1,-2.9],[5.3,-3.1]];
const snuPathway = [[4.28,-5.75],[3.98,-4.03],[1.63,-3.51],[5.50,-3.44],[3.87,-3.33],[2.64,-3.23],[2.56,-2.72],[5.32,-2.47],[5.05,-2.37],[4.39,-2.24],[2.46,-2.18],[2.75,-2.07],[3.98,-2.05]];
const snuLabels = [
  {gene:"DHFR", x:4.56, y:-4.81, px:3.98, py:-4.03, side:"start", compact:false},
  {gene:"AHCY", x:3.74, y:-3.58, px:2.56, py:-2.72, side:"end", compact:true},
  {gene:"TYMS", x:4.05, y:-2.74, px:2.46, py:-2.18, side:"start", compact:true},
  {gene:"MTHFD1", x:5.94, y:-3.18, px:5.32, py:-2.47, side:"start", compact:false}];

// ---------------- LAYOUT ----------------
const layouts = [
  {left:111, right:390, top:247, bottom:738, xDomain:[-0.38, 7.0], yDomain:[-5.3, 2.88], tickPad:2, pLabelY:1.2, nameX:120},
  {left:431, right:709, top:244, bottom:735, xDomain:[-0.355, 6.98], yDomain:[-5.71, 2.96], tickPad:7, pLabelY:1.24, nameX:442},
  {left:750, right:1028, top:243, bottom:735, xDomain:[-0.29, 7.04], yDomain:[-5.11, 2.66], tickPad:7, pLabelY:1.17, nameX:759},
  {left:1068, right:1317, top:243, bottom:684, xDomain:[-0.29, 6.95], yDomain:[-7.23, 2.91], tickPad:6, pLabelY:1.78, nameX:1074}
];
const panelData = [
  [gsuNonTargeting, gsuCandidates.concat(gsuCandidatesCore), gsuPathway, gsuLabels, yTicksGSU],
  [katoNonTargeting, katoCandidates.concat(katoCandidatesCore), katoPathway, katoLabels, yTicksKATOIII],
  [nugcNonTargeting, nugcCandidates.concat(nugcCandidatesCore), nugcPathway, nugcLabels, yTicksNUGC3],
  [snuNonTargeting, snuCandidates.concat(snuCandidatesCore), snuPathway, snuLabels, yTicksSNU]
];

const FONT = "Liberation Sans, Arial, sans-serif";

// ---------------- OVERLAY (arrows, titles, legend) ----------------
const ov = d3.select("body").append("svg")
  .attr("width", 1357).attr("height", 794)
  .style("position", "absolute").style("left", "0px").style("top", "0px")
  .style("font-family", FONT);
ov.append("path").attr("d", "M60,180H1354M1348,176.5L1355,180L1348,183.5")
  .attr("fill", "none").attr("stroke", "#111").attr("stroke-width", 1.3);
ov.append("path").attr("d", "M61,180V789M57.5,783L61,790L64.5,783")
  .attr("fill", "none").attr("stroke", "#111").attr("stroke-width", 1.3);
const tx = ov.append("text").attr("x", 503).attr("y", 161).attr("font-size", 32).attr("fill", "#111");
tx.append("tspan").text("-Log");
tx.append("tspan").attr("font-size", 19).attr("dy", 6).text("10");
tx.append("tspan").attr("dy", -6).text("(p-value)");
const ty = ov.append("text").attr("transform", "translate(37,525) rotate(-90)")
  .attr("text-anchor", "middle").attr("font-size", 32).attr("fill", "#111");
ty.append("tspan").text("Log");
ty.append("tspan").attr("font-size", 19).attr("dy", 6).text("2");
ty.append("tspan").attr("dy", -6).text("(Fold Change)");
layouts.forEach((L, i) => {
  ov.append("text").attr("x", L.nameX).attr("y", 762).attr("font-size", 15).attr("fill", "#222").text(cellLines[i]);
});
const legendColors = [["#c6c6c8", "#9d9d9f"], ["#f6ebc6", "#d8cda3"], ["#2e76a8", "#215d89"]];
const legendY = [25, 68.3, 111.7];
legendLabels.forEach((lab, i) => {
  ov.append("circle").attr("cx", 935).attr("cy", legendY[i]).attr("r", 14.5)
    .attr("fill", legendColors[i][0]).attr("stroke", legendColors[i][1]).attr("stroke-width", 1);
  const lines = Array.isArray(lab) ? lab : [lab];
  const y0 = (lines.length === 1 ? legendY[i] : legendY[i] - 10) + 5.5;
  lines.forEach((s, j) => {
    ov.append("text").attr("x", 970).attr("y", y0 + j * 18.3)
      .attr("font-size", 15.6).attr("fill", "#111").text(s);
  });
});

// ---------------- PANELS ----------------
layouts.forEach((L, i) => {
  const [nonTargeting, candidates, pathway, labels, yTicks] = panelData[i];
  const ml = 45, mr = 38, mt = 40, mb = 10;
  const w = L.right - L.left, h = L.bottom - L.top;
  const labelMarks = labels.map(l => {
    const pad = l.compact ? 3 : 4.5, boxH = l.compact ? 18.5 : 26;
    return Plot.text([l], {x: "x", y: "y", text: "gene", textAnchor: l.side,
      dx: l.side === "start" ? pad : -pad, dy: -boxH / 2,
      fontSize: 15, fontStyle: "italic", fill: "#222", fontFamily: FONT,
      ariaDescription: l.compact ? "gene-label-compact" : "gene-label"});
  });
  const svg = Plot.plot({
    width: ml + w + mr, height: mt + h + mb,
    marginLeft: ml, marginRight: mr, marginTop: mt, marginBottom: mb,
    style: {background: "transparent", overflow: "visible", fontFamily: FONT, color: "#111"},
    x: {domain: L.xDomain, range: [ml, ml + w]},
    y: {domain: L.yDomain, range: [mt, mt + h]},
    marks: [
      Plot.ruleY([foldThreshold], {stroke: "#a6a6a6", strokeWidth: 1}),
      Plot.ruleX([pThreshold], {stroke: "#a6a6a6", strokeWidth: 1}),
      Plot.dot(candidates, {x: d => d[0], y: d => d[1], r: 1.6, fill: "#efe1ae"}),
      Plot.dot(nonTargeting, {x: d => d[0], y: d => d[1], r: 1.5, fill: "#a0a0a4"}),
      Plot.ruleX([L.xDomain[0]], {stroke: "#111", strokeWidth: 1.3}),
      Plot.ruleY([L.yDomain[0]], {stroke: "#111", strokeWidth: 1.3}),
      Plot.axisX({anchor: "top", ticks: xTicks, tickSize: 3, tickPadding: 4, tickFormat: d => String(d), label: null, fontSize: 14}),
      Plot.axisY({anchor: "left", ticks: yTicks, tickSize: 3, tickPadding: L.tickPad, tickFormat: d => String(d), label: null, fontSize: 14}),
      Plot.text(["p<0.05"], {x: pThreshold, y: L.pLabelY, text: d => d, rotate: 90, dx: 12, fontSize: 15.5, fill: "#222"}),
      Plot.link(labels, {x1: "x", y1: "y", x2: "px", y2: "py", stroke: "#8f8f8f", strokeWidth: 1}),
      Plot.dot(pathway, {x: d => d[0], y: d => d[1], r: 6.5, fill: "#2c74a6", stroke: "#1c5682", strokeWidth: 0.8}),
      ...labelMarks
    ]
  });
  const div = document.createElement("div");
  div.className = "panel";
  div.style.left = (L.left - ml) + "px";
  div.style.top = (L.top - mt) + "px";
  div.style.width = (ml + w + mr) + "px";
  div.appendChild(svg);
  document.body.appendChild(div);
  // white boxes behind gene labels
  svg.querySelectorAll('g[aria-description^="gene-label"] text').forEach(t => {
    const compact = t.parentNode.getAttribute("aria-description") === "gene-label-compact";
    const pad = compact ? 3 : 4.5, boxH = compact ? 18.5 : 26;
    const bb = t.getBBox();
    const r = document.createElementNS("http://www.w3.org/2000/svg", "rect");
    r.setAttribute("x", bb.x - pad);
    r.setAttribute("y", -boxH / 2);
    r.setAttribute("width", bb.width + 2 * pad);
    r.setAttribute("height", boxH);
    r.setAttribute("fill", "#fff");
    r.setAttribute("stroke", "#a8a8a8");
    r.setAttribute("stroke-width", 1);
    if (t.getAttribute("transform")) r.setAttribute("transform", t.getAttribute("transform"));
    t.parentNode.insertBefore(r, t);
  });
});
</script>
</body></html>
